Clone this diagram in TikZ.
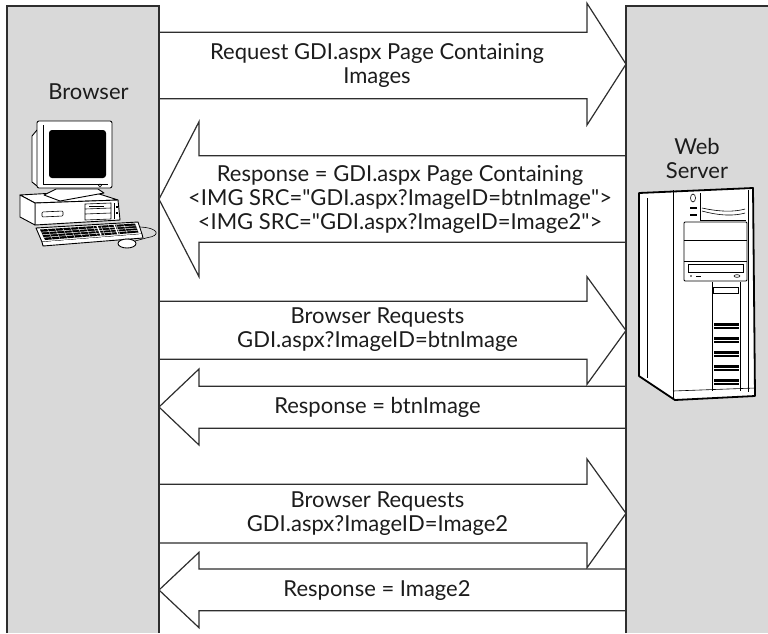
\documentclass[tikz,border=0pt]{standalone}
\usepackage{fontspec}
\usetikzlibrary{calc}
\setmainfont{Lato}
\definecolor{panelgray}{HTML}{D9D9D9}
\definecolor{edge}{HTML}{2E2E2E}
\definecolor{ink}{HTML}{1C1C1C}

\tikzset{
  panelfill/.style={fill=panelgray},
  panelline/.style={draw=edge, line width=2pt},
  blockarrow/.style={draw=edge, fill=white, line width=1.2pt, line join=miter},
  lbl/.style={text=ink, align=center, font=\fontsize{22}{24}\selectfont, inner sep=0pt},
  dev/.style={draw=black, fill=white, line width=0.9pt, line join=round},
  devthin/.style={draw=black, line width=0.6pt},
}

% block arrow pointing to the server: body top, body bottom, head top, head bottom
\newcommand\toserver[4]{%
  \path[blockarrow] (159,#1) -- (587,#1) -- (587,#3) -- (626,{(#3+#4)/2})
    -- (587,#4) -- (587,#2) -- (159,#2);}
% block arrow pointing to the browser
\newcommand\toclient[4]{%
  \path[blockarrow] (626,#1) -- (199,#1) -- (199,#3) -- (159,{(#3+#4)/2})
    -- (199,#4) -- (199,#2) -- (626,#2);}
% straight double quote
\newcommand\dq{\textquotedbl}

\begin{document}
\begin{tikzpicture}[x=1pt,y=-1pt]
\useasboundingbox (0,0) rectangle (768,633);

% side panels
\fill[panelfill] (6.7,6) rectangle (159,633);
\fill[panelfill] (626,6) rectangle (768,633);

% message arrows
\toserver{32.3}{98.7}{3.3}{125}
\toclient{155.7}{242.3}{121.7}{276.7}
\toserver{301.3}{359.3}{276.7}{384.3}
\toclient{386.3}{428.3}{369}{445}
\toserver{484.3}{543}{459}{567.7}
\toclient{569}{610.7}{552.3}{627.7}

% panel borders
\draw[panelline] (6.7,633) -- (6.7,6) -- (159,6) -- (159,633);
\draw[panelline] (626,633) -- (626,6) -- (768,6);

% labels
\node[lbl] (browser) at (88.5,91.5) {Browser};
\node[lbl] (server) at (697,158) {Web\\Server};
\node[lbl] (m1) at (377,65.5) {Request GDI.aspx Page Containing\\Images};
\node[lbl] (m2) at (400,199) {Response = GDI.aspx Page Containing\\<IMG SRC=\dq GDI.aspx?ImageID=btnImage\dq>\\<IMG SRC=\dq GDI.aspx?ImageID=Image2\dq>};
\node[lbl] (m3) at (377.5,330) {Browser Requests\\GDI.aspx?ImageID=btnImage};
\node[lbl] (m4) at (377.5,407.3) {Response = btnImage};
\node[lbl] (m5) at (377.5,513.5) {Browser Requests\\GDI.aspx?ImageID=Image2};
\node[lbl] (m6) at (377,590.5) {Response = Image2};

% ---- desktop computer ----
% system unit
\draw[dev] (20,195) -- (90,191) -- (118,200) -- (35,203) -- cycle;
\draw[dev] (35,203) -- (118,200) -- (120,220) -- (35,225) -- cycle;
\draw[dev] (20,195) -- (35,203) -- (35,225) -- (20,217) -- cycle;
\draw[devthin, rounded corners=1pt] (42,212) -- (63,211) -- (63,216) -- (42,217) -- cycle;
\draw[devthin] (85,204) -- (111,203) -- (111,219) -- (85,220) -- cycle;
\draw[devthin] (85,209) -- (111,208);
\draw[devthin] (85,214) -- (111,213);
\fill (89,206) rectangle (104,207.3);
\draw[devthin] (114,203) -- (114,219);
\fill (116,206) rectangle (118,208);
\fill (116,212) rectangle (118,214);
% monitor stand
\draw[dev] (44,195) -- (56,189) -- (98,189) -- (104,193) -- (60,201) -- cycle;
% monitor housing
\draw[dev] (37,130) -- (32,136) -- (32,182) -- (37,186);
\draw[dev, rounded corners=2pt] (37,121) rectangle (112,188);
\fill[black, rounded corners=3pt] (49,130) rectangle (106,178);
\draw[devthin] (43,125) -- (43,184) -- (108,184);
\draw[devthin] (100,185.5) circle (1.5);
% keyboard
\draw[dev] (36,228) -- (138,222) -- (142,234) -- (42,242) -- cycle;
\draw[dev] (42,242) -- (43,246) -- (143,238) -- (142,234);
\fill[black] (40,229.5) -- (135,223.5) -- (138.5,232.5) -- (45,240) -- cycle;
\foreach \t in {0.25,0.5,0.75}
  \draw[white, line width=0.5pt] ($(40,229.5)!\t!(45,240)$) -- ($(135,223.5)!\t!(138.5,232.5)$);
\foreach \t in {0.08,0.16,...,0.95}
  \draw[white, line width=0.35pt] ($(40,229.5)!\t!(135,223.5)$) -- ($(45,240)!\t!(138.5,232.5)$);
\draw[white, line width=1.3pt] ($(40,229.5)!0.6!(135,223.5)$) -- ($(45,240)!0.6!(138.5,232.5)$);
\draw[white, line width=1.3pt] ($(40,229.5)!0.78!(135,223.5)$) -- ($(45,240)!0.78!(138.5,232.5)$);
% mouse and cable
\draw[devthin] (140,227) .. controls (160,228) and (160,236) .. (148,237.5)
  .. controls (141,238.5) .. (135,241);
\draw[dev] (127,243.5) ellipse (9 and 4.5);

% ---- tower server ----
\draw[line width=1.8pt, fill=white, line join=round]
  (639,193) -- (753,188) -- (755,396) -- (675,400) -- (639,376) -- cycle;
\draw[devthin] (673,190) -- (673,399);
\draw[devthin] (647,198) -- (647,378);
\draw[devthin] (748,190) -- (748,392);
\draw[devthin] (673,391) -- (755,388);
% top bay area
\draw[devthin] (693,198) ellipse (2.5 and 4);
\fill (690,207) rectangle (697,209);
\fill (690,214) rectangle (697,216);
\draw[devthin] (700,193) -- (700,220) -- (746,220);
\draw[devthin] (702,208) .. controls (720,212) and (735,212) .. (745,209);
\draw[devthin] (702,211) .. controls (720,216) and (735,216) .. (745,213);
% drive bays
\draw[dev, rounded corners=1pt] (684,222) rectangle (747,281);
\draw[devthin] (684,240) -- (747,240);
\draw[devthin] (684,261) -- (747,261);
\draw[devthin] (688,264) rectangle (743,272);
\fill (691,276) circle (0.9);
\fill (696,275.5) rectangle (701,276.8);
\draw[devthin] (737,276) ellipse (3 and 1.3);
% lower front panel
\draw[devthin] (712,282) -- (712,391);
\draw[devthin] (740,282) -- (740,391);
\draw[devthin] (713,287) rectangle (738,293);
\foreach \v in {323,337,351,365,379}
  \foreach \k in {0,1.4,2.8,4.2,5.6}
    \draw[black, line width=0.7pt] (714,\v+\k) -- (739,\v+\k);
\end{tikzpicture}
\end{document}
